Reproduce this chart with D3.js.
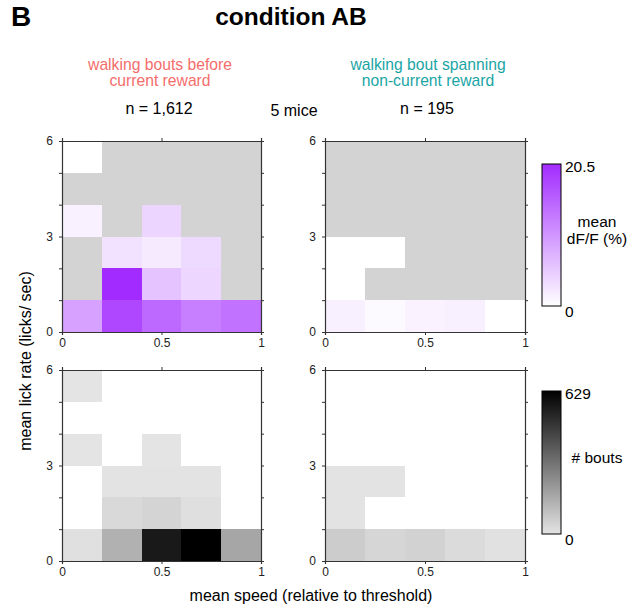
<!DOCTYPE html>
<html>
<head>
<meta charset="utf-8">
<script src="https://cdn.jsdelivr.net/npm/d3@7"></script>
<style>
  body { margin: 0; background: #fff; }
  text { font-family: "Liberation Sans", Arial, Helvetica, sans-serif; }
</style>
</head>
<body>
<svg id="fig" width="644" height="611"></svg>
<script>
// bin edges
var speedEdges = [0, 0.2, 0.4, 0.6, 0.8, 1];
var lickEdges = [0, 1, 2, 3, 4, 5, 6];
var xTickVals = [0, 0.5, 1];
var yTickVals = [0, 1, 2, 3, 4, 5, 6];
var yLabelVals = [0, 3, 6];

// mean dF/F (%) per bin, rows = lick bins from 0, null = no bouts
var dffBefore = [
    [9.1, 17.9, 14.6, 12.4, 13.7],
    [null, 20.5, 5.8, 4.0, null],
    [null, 2.9, 2.0, 3.7, null],
    [1.4, null, 4.1, null, null],
    [null, null, null, null, null],
    [0, null, null, null, null]
];
var dffSpanning = [
    [1.6, 0.6, 1.2, 1.5, 0],
    [0, null, null, null, null],
    [0, 0, null, null, null],
    [null, null, null, null, null],
    [null, null, null, null, null],
    [null, null, null, null, null]
];
// number of bouts per bin
var boutsBefore = [
    [10, 140, 560, 629, 170],
    [0, 30, 45, 15, 0],
    [0, 2, 2, 2, 0],
    [1, 0, 1, 0, 0],
    [0, 0, 0, 0, 0],
    [1, 0, 0, 0, 0]
];
var boutsSpanning = [
    [65, 38, 50, 26, 8],
    [3, 0, 0, 0, 0],
    [3, 2, 0, 0, 0],
    [0, 0, 0, 0, 0],
    [0, 0, 0, 0, 0],
    [0, 0, 0, 0, 0]
];
var dffMax = 20.5;
var boutsMax = 629;

var svg = d3.select("#fig");

var dffColor = d3.scaleLinear().domain([0, dffMax]).range(["#ffffff", "#a22cff"]).clamp(true);
var boutColor = d3.scaleLinear().domain([0, boutsMax]).range(["#e4e4e4", "#000000"]).clamp(true);

function cells(matrix){
    var out = [];
    matrix.forEach(function(row, j){
        row.forEach(function(v, i){
            out.push({i: i, j: j, v: v});
        });
    });
    return out;
}

function drawPanel(left, right, top, bottom, matrix, fillFn){
    var x = d3.scaleLinear().domain([0, 1]).range([left, right]);
    var y = d3.scaleLinear().domain([0, 6]).range([bottom, top]);
    var g = svg.append("g");

    g.selectAll("rect.cell")
        .data(cells(matrix))
        .enter()
        .append("rect")
            .classed("cell", true)
            .attr("x", d => x(speedEdges[d.i]))
            .attr("y", d => y(lickEdges[d.j + 1]))
            .attr("width", d => x(speedEdges[d.i + 1]) - x(speedEdges[d.i]))
            .attr("height", d => y(lickEdges[d.j]) - y(lickEdges[d.j + 1]))
            .attr("fill", d => fillFn(d.v))
            .attr("shape-rendering", "crispEdges");

    // frame with outward ticks on all four sides
    var axB = g.append("g").attr("transform", "translate(0," + bottom + ")")
        .call(d3.axisBottom(x).tickValues(xTickVals).tickSize(3).tickPadding(3)
              .tickFormat(d3.format("")));
    var axT = g.append("g").attr("transform", "translate(0," + top + ")")
        .call(d3.axisTop(x).tickValues(xTickVals).tickSize(3).tickFormat(""));
    var axL = g.append("g").attr("transform", "translate(" + left + ",0)")
        .call(d3.axisLeft(y).tickValues(yTickVals).tickSize(3).tickPadding(6)
              .tickFormat(d => yLabelVals.indexOf(d) >= 0 ? d : ""));
    var axR = g.append("g").attr("transform", "translate(" + right + ",0)")
        .call(d3.axisRight(y).tickValues(yTickVals).tickSize(3).tickFormat(""));

    [axB, axT, axL, axR].forEach(function(a){
        a.selectAll("path").attr("stroke", "#333").attr("stroke-width", 1.2);
        a.selectAll("line").attr("stroke", "#333");
        a.selectAll("text")
            .style("font-family", "'Liberation Sans', Arial, sans-serif")
            .style("font-size", "12px")
            .attr("fill", "#222");
    });
}

drawPanel(62, 261, 141, 332, dffBefore, v => v === null ? "#d3d3d3" : dffColor(v));
drawPanel(325, 525, 141, 332, dffSpanning, v => v === null ? "#d3d3d3" : dffColor(v));
drawPanel(62, 261, 370, 561, boutsBefore, v => v === 0 ? "#ffffff" : boutColor(v));
drawPanel(325, 525, 370, 561, boutsSpanning, v => v === 0 ? "#ffffff" : boutColor(v));

// colour bars
function colorBar(id, top, bottom, scale, maxVal, maxLabel, labelLines, labelY){
    var grad = svg.append("defs").append("linearGradient")
        .attr("id", id).attr("x1", 0).attr("y1", 1).attr("x2", 0).attr("y2", 0);
    grad.append("stop").attr("offset", 0).attr("stop-color", scale(0));
    grad.append("stop").attr("offset", 1).attr("stop-color", scale(maxVal));
    var yb = d3.scaleLinear().domain([0, maxVal]).range([bottom, top]);
    svg.append("rect")
        .attr("x", 542).attr("y", yb(maxVal))
        .attr("width", 19).attr("height", yb(0) - yb(maxVal))
        .attr("fill", "url(#" + id + ")")
        .attr("stroke", "#000").attr("stroke-width", 1);
    svg.append("text").attr("x", 565).attr("y", yb(maxVal) + 8)
        .attr("font-size", 15.5).text(maxLabel);
    svg.append("text").attr("x", 565).attr("y", yb(0) + 11)
        .attr("font-size", 15.5).text("0");
    labelLines.forEach(function(t, k){
        svg.append("text").attr("x", 597).attr("y", labelY + k * 17)
            .attr("text-anchor", "middle").attr("font-size", 15.5).text(t);
    });
}
colorBar("gradDff", 164, 306, dffColor, dffMax, "20.5", ["mean", "dF/F (%)"], 227);
colorBar("gradBouts", 391, 534, boutColor, boutsMax, "629", ["# bouts"], 463);

// titles
svg.append("text").attr("x", 11).attr("y", 26)
    .attr("font-size", 28).attr("font-weight", "bold").text("B");
svg.append("text").attr("x", 291).attr("y", 25)
    .attr("text-anchor", "middle").attr("font-size", 24.5).attr("font-weight", "bold")
    .text("condition AB");

var red = "#f46d6b", teal = "#1aa5a5";
[["walking bouts before", 70], ["current reward", 86]].forEach(function(d){
    svg.append("text").attr("x", 160).attr("y", d[1]).attr("text-anchor", "middle")
        .attr("font-size", 15.7).attr("fill", red).text(d[0]);
});
[["walking bout spanning", 70], ["non-current reward", 86]].forEach(function(d){
    svg.append("text").attr("x", 428).attr("y", d[1]).attr("text-anchor", "middle")
        .attr("font-size", 15.7).attr("fill", teal).text(d[0]);
});
svg.append("text").attr("x", 159).attr("y", 114).attr("text-anchor", "middle")
    .attr("font-size", 16).text("n = 1,612");
svg.append("text").attr("x", 294).attr("y", 116).attr("text-anchor", "middle")
    .attr("font-size", 16).text("5 mice");
svg.append("text").attr("x", 427).attr("y", 114).attr("text-anchor", "middle")
    .attr("font-size", 16).text("n = 195");

// axis titles
svg.append("text")
    .attr("transform", "rotate(-90)")
    .attr("x", -361).attr("y", 31)
    .attr("text-anchor", "middle").attr("font-size", 16)
    .text("mean lick rate (licks/ sec)");
svg.append("text").attr("x", 311).attr("y", 601)
    .attr("text-anchor", "middle").attr("font-size", 16)
    .text("mean speed (relative to threshold)");
</script>
</body>
</html>
